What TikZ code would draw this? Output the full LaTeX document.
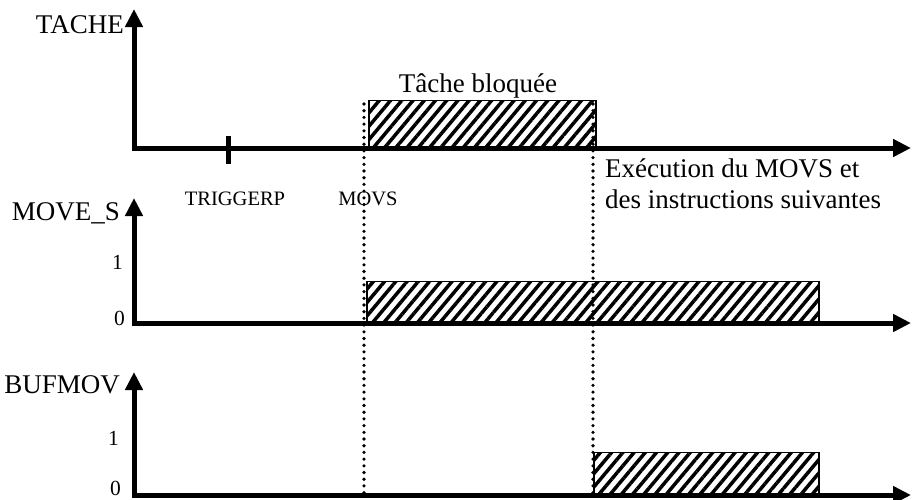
\documentclass[tikz,border=0pt]{standalone}
\usepackage{fontspec}
\setmainfont{Liberation Serif}
\usetikzlibrary{arrows.meta,patterns.meta}

\begin{document}
\begin{tikzpicture}[x=1pt, y=-1pt,
  axis/.style={line width=5pt, line join=miter,
    {Triangle[length=18pt,width=17pt]}-{Triangle[length=18pt,width=17pt]}},
  tickmark/.style={line width=5pt},
  hatchbox/.style={draw, line width=1.5pt, inner sep=0pt, anchor=south west,
    pattern={Lines[angle=50, distance=8.6pt, line width=3.5pt]}},
  dotline/.style={line width=3.6pt, line cap=round, dash pattern=on 0pt off 6.7pt},
  bigtext/.style={inner sep=0pt, font=\fontsize{27}{31}\selectfont},
  smalltext/.style={inner sep=0pt, font=\fontsize{20.5}{24}\selectfont},
  digit/.style={inner sep=0pt, anchor=base east, font=\fontsize{21.5}{25}\selectfont}]

\clip (0,0) rectangle (912,499);

% ---- TACHE axis ----
\coordinate (oA) at (134,148);
\coordinate (yA) at (134,9);
\coordinate (xA) at (911,148);
\draw[axis] (yA) -- (oA) -- (xA);
\coordinate (tickT) at (228,136);
\coordinate (tickB) at (228,164);
\draw[tickmark] (tickT) -- (tickB);
\node[bigtext, anchor=base east] (lblA) at (124,33) {TACHE};
\node[hatchbox, minimum width=227pt, minimum height=46pt] (boxA) at (367,148) {};
\node[bigtext, anchor=base] (blk) at (478,92) {Tâche bloquée};
\node[smalltext, anchor=base] (trig) at (235,205) {TRIGGERP};
\node[smalltext, anchor=base] (movs) at (368,205) {MOVS};
\node[bigtext, anchor=base west] (exA) at (605,177) {Exécution du MOVS et};
\node[bigtext, anchor=base west] (exB) at (605,208) {des instructions suivantes};

% ---- MOVE_S axis ----
\coordinate (oB) at (134,323);
\coordinate (yB) at (134,198);
\coordinate (xB) at (911,323);
\draw[axis] (yB) -- (oB) -- (xB);
\node[bigtext, anchor=base east] (lblB) at (120,220) {MOVE\_S};
\node[digit] (oneB) at (123,269) {1};
\node[digit] (zeroB) at (125,325) {0};
\node[hatchbox, minimum width=452pt, minimum height=41pt] (boxB) at (366,323) {};

% ---- BUFMOV axis ----
\coordinate (oC) at (134,495);
\coordinate (yC) at (134,372);
\coordinate (xC) at (911,495);
\draw[axis] (yC) -- (oC) -- (xC);
\node[bigtext, anchor=base east] (lblC) at (120,393) {BUFMOV};
\node[digit] (oneC) at (119,445) {1};
\node[digit] (zeroC) at (121,495) {0};
\node[hatchbox, minimum width=225pt, minimum height=42pt] (boxC) at (593,495) {};

% ---- dotted time markers ----
\coordinate (d1top) at (364,104);
\coordinate (d1bot) at (364,499);
\coordinate (d2top) at (593,104);
\coordinate (d2bot) at (593,499);
\draw[dotline] (d1top) -- (d1bot);
\draw[dotline] (d2top) -- (d2bot);
\end{tikzpicture}
\end{document}
